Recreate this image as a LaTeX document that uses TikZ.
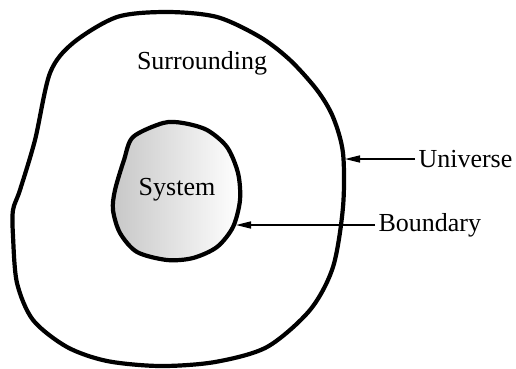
\documentclass[tikz,border=0pt]{standalone}
\usepackage{fontspec}
\setmainfont{Liberation Serif}
\usetikzlibrary{positioning,arrows.meta}

\begin{document}
\begin{tikzpicture}[x=1pt,y=-1pt,every node/.style={font=\fontsize{26}{30}\selectfont},
    wall/.style={line width=4.2pt,line join=round},
    pointer/.style={line width=1.6pt,-{Triangle[length=15pt,width=7pt]}}]
            \useasboundingbox (0,0) rectangle (516,368);
            % the universe, a rough loop round everything
            \draw[wall] plot[smooth cycle] coordinates {(167,12) (117,17) (73,43) (50,73)
                (35,140) (20,190) (13,210) (13,236) (17,283) (33,320) (67,347) (107,361) (160,366)
                (215,362) (267,347) (310,310) (333,267) (343,207) (343,153) (333,117)
                (317,90) (290,60) (260,37) (217,17)};
            % the system, shaded from grey to white
            \draw[wall,left color=black!22,right color=white] plot[smooth cycle] coordinates {
                (163,123) (133,137) (124,160) (115,190) (113,210) (120,233) (137,252)
                (167,260) (193,258) (217,247) (233,227) (240,200) (238,173) (227,147)
                (207,130) (183,123)};
            \node (surr) at (202,63) {Surrounding};
            \node (sys) at (177,190) {System};
            \node[anchor=west] (univ) at (415,159) {Universe};
            \node[anchor=west] (bound) at (375,225) {Boundary};
            \coordinate (univtip) at (345,159);
            \coordinate (boundtip) at (236,225);
            \draw[pointer] (univ) -- (univtip);
            \draw[pointer] (bound) -- (boundtip);
        \end{tikzpicture}
\end{document}
